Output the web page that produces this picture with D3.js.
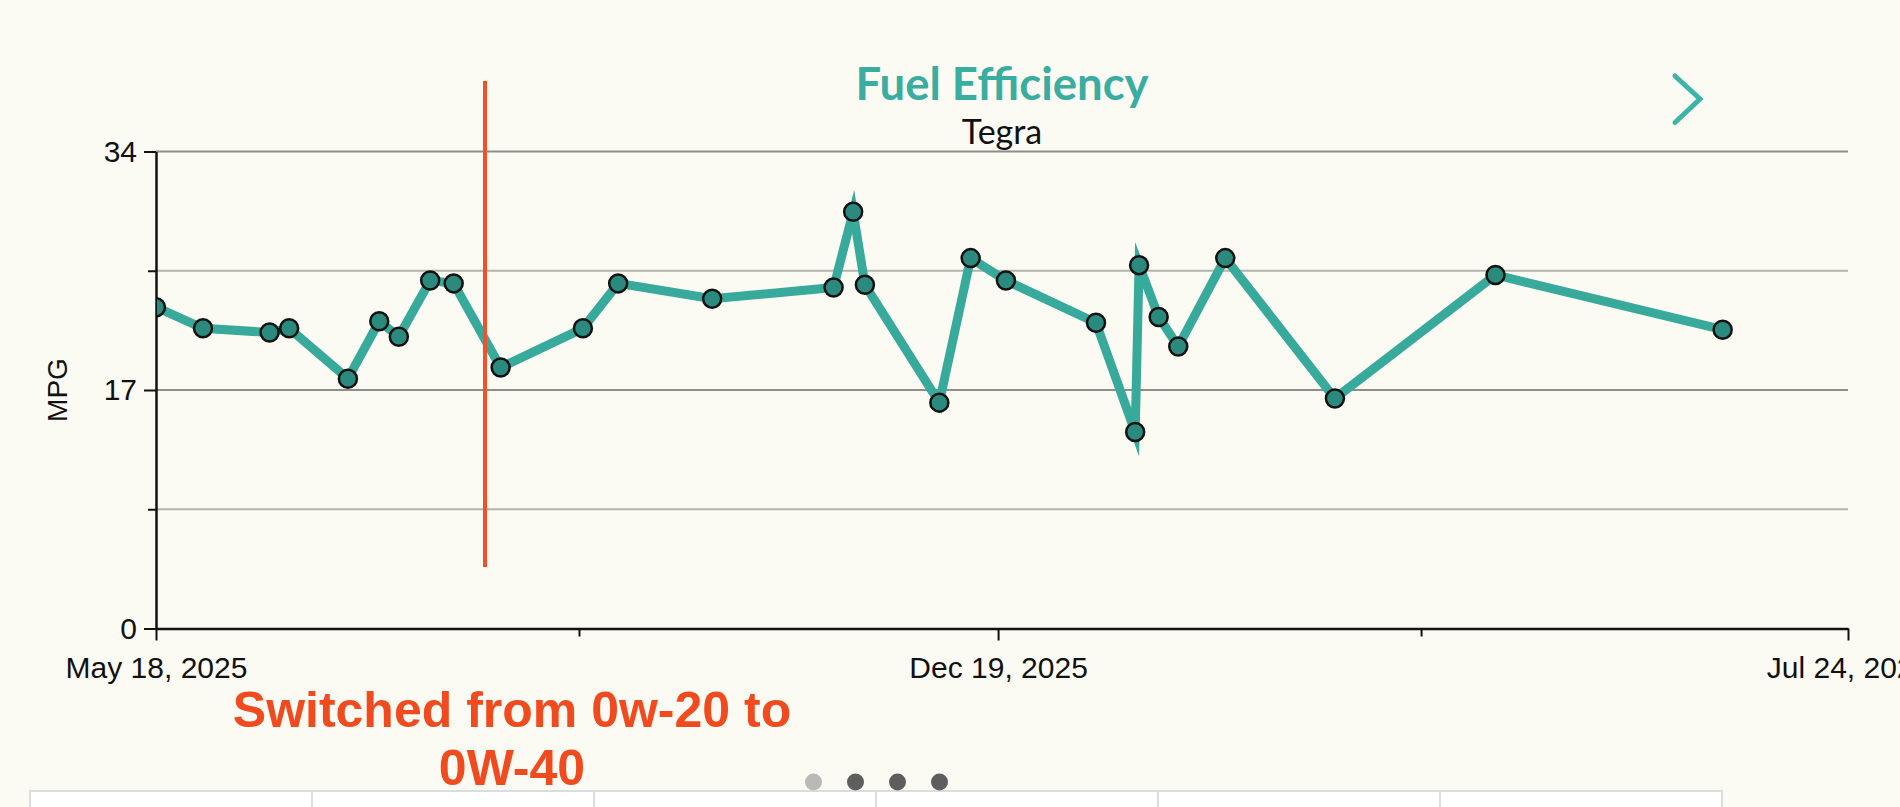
<!DOCTYPE html>
<html>
<head>
<meta charset="utf-8">
<script src="https://cdn.jsdelivr.net/npm/d3@7"></script>
<style>
  html, body { margin: 0; padding: 0; background: #fcfbf3; overflow: hidden; }
  svg { display: block; }
</style>
</head>
<body>
<svg id="chart" width="1900" height="807"></svg>
<script>
// Fill-up dates and MPG
const fillDates = [
  '2025-05-18', '2025-05-30', '2025-06-16', '2025-06-21', '2025-07-06',
  '2025-07-14', '2025-07-19', '2025-07-27', '2025-08-02', '2025-08-14',
  '2025-09-04', '2025-09-13', '2025-10-07', '2025-11-07', '2025-11-12',
  '2025-11-15', '2025-12-04', '2025-12-12', '2025-12-21', '2026-01-13',
  '2026-01-23', '2026-01-24', '2026-01-29', '2026-02-03', '2026-02-15',
  '2026-03-15', '2026-04-25', '2026-06-22'
];
const mpgValues = [
  22.9, 21.4, 21.1, 21.4, 17.8,
  21.9, 20.8, 24.8, 24.6, 18.6,
  21.4, 24.6, 23.5, 24.3, 29.7,
  24.5, 16.1, 26.4, 24.8, 21.8,
  14.0, 25.9, 22.2, 20.1, 26.4,
  16.4, 25.2, 21.3
];

// Axis ticks
const xDomain = ['2025-05-18', '2026-07-24'];
const xTickDates = ['2025-05-18', '2025-09-03', '2025-12-19', '2026-04-06', '2026-07-24'];
const xTickLabels = ['May 18, 2025', '', 'Dec 19, 2025', '', 'Jul 24, 2026'];
const yTicks = [0, 8.5, 17, 25.5, 34];
const yTickLabels = ['0', '', '17', '', '34'];

// Oil change annotation
const switchDate = '2025-08-10';
const switchText = ['Switched from 0w-20 to', '0W-40'];

const teal = '#37aa9c';
const red = '#f2502a';

const parse = d3.timeParse('%Y-%m-%d');
const data = fillDates.map((d, i) => ({ date: parse(d), mpg: mpgValues[i] }));

const svg = d3.select('#chart');
const plotLeft = 156, plotRight = 1848, plotTop = 151.5, plotBottom = 628.5;

const x = d3.scaleTime()
  .domain(xDomain.map(parse))
  .range([plotLeft, plotRight]);

const y = d3.scaleLinear()
  .domain([0, 34])
  .range([plotBottom, plotTop]);

// gridlines
svg.append('g')
  .selectAll('line')
  .data(yTicks.filter(d => d > 0))
  .enter()
  .append('line')
  .attr('x1', plotLeft)
  .attr('x2', plotRight)
  .attr('y1', d => y(d))
  .attr('y2', d => y(d))
  .attr('stroke', d => yTickLabels[yTicks.indexOf(d)] ? '#8e8d89' : '#b4b3ae')
  .attr('stroke-width', 2);

// y axis
const yAxis = svg.append('g')
  .attr('transform', `translate(${plotLeft},0)`)
  .call(d3.axisLeft(y).tickValues(yTicks).tickFormat((d, i) => yTickLabels[i]).tickSizeOuter(0));
yAxis.select('.domain').attr('stroke', '#111').attr('stroke-width', 2.5);
yAxis.selectAll('.tick line')
  .attr('stroke', '#111')
  .attr('stroke-width', 2)
  .attr('x2', (d, i) => yTickLabels[i] ? -12 : -8);
yAxis.selectAll('.tick text')
  .attr('x', -19)
  .style('font-family', '"Liberation Sans", Arial, sans-serif')
  .style('font-size', '30px')
  .attr('fill', '#111');

// x axis
const xAxis = svg.append('g')
  .attr('transform', `translate(0,${plotBottom})`)
  .call(d3.axisBottom(x).tickValues(xTickDates.map(parse)).tickFormat((d, i) => xTickLabels[i]).tickSizeOuter(0));
xAxis.select('.domain').attr('stroke', '#111').attr('stroke-width', 2.5);
xAxis.selectAll('.tick line')
  .attr('stroke', '#111')
  .attr('stroke-width', 2)
  .attr('y2', (d, i) => xTickLabels[i] ? 12 : 8);
xAxis.selectAll('.tick text')
  .attr('y', 28)
  .style('font-family', '"Liberation Sans", Arial, sans-serif')
  .style('font-size', '30px')
  .attr('fill', '#111');

// y axis title
svg.append('text')
  .attr('transform', `translate(67,${y(17)}) rotate(-90)`)
  .attr('text-anchor', 'middle')
  .style('font-family', '"Liberation Sans", Arial, sans-serif')
  .style('font-size', '28px')
  .attr('fill', '#111')
  .text('MPG');

// clip the series to the plot area
svg.append('clipPath')
  .attr('id', 'plot-clip')
  .append('rect')
  .attr('x', plotLeft + 1)
  .attr('y', 0)
  .attr('width', plotRight - plotLeft)
  .attr('height', plotBottom);

const plot = svg.append('g').attr('clip-path', 'url(#plot-clip)');

const line = d3.line()
  .x(d => x(d.date))
  .y(d => y(d.mpg));

plot.append('path')
  .datum(data)
  .attr('d', line)
  .attr('fill', 'none')
  .attr('stroke', teal)
  .attr('stroke-width', 9)
  .attr('stroke-linejoin', 'miter')
  .attr('stroke-miterlimit', 10);

plot.selectAll('circle')
  .data(data)
  .enter()
  .append('circle')
  .attr('cx', d => x(d.date))
  .attr('cy', d => y(d.mpg))
  .attr('r', 9)
  .attr('fill', '#2b8a7e')
  .attr('stroke', '#111')
  .attr('stroke-width', 2.5);

// titles
svg.append('text')
  .attr('x', (plotLeft + plotRight) / 2)
  .attr('y', 100)
  .attr('text-anchor', 'middle')
  .style('font-family', 'Lato, sans-serif')
  .style('font-weight', 'bold')
  .style('font-size', '45.5px')
  .attr('fill', '#3aada1')
  .text('Fuel Efficiency');

svg.append('text')
  .attr('x', (plotLeft + plotRight) / 2)
  .attr('y', 144)
  .attr('text-anchor', 'middle')
  .style('font-family', 'Lato, sans-serif')
  .style('font-size', '34px')
  .attr('fill', '#111')
  .text('Tegra');

// next chevron
svg.append('path')
  .attr('d', 'M1675,76 L1700,99 L1675,122.5')
  .attr('fill', 'none')
  .attr('stroke', '#3ab5a8')
  .attr('stroke-width', 5)
  .attr('stroke-linecap', 'round')
  .attr('stroke-linejoin', 'miter');

// annotation
svg.append('line')
  .attr('x1', x(parse(switchDate)))
  .attr('x2', x(parse(switchDate)))
  .attr('y1', 81)
  .attr('y2', 567)
  .attr('stroke', red)
  .attr('stroke-width', 4);

svg.append('g')
  .selectAll('text')
  .data(switchText)
  .enter()
  .append('text')
  .attr('x', 512)
  .attr('y', (d, i) => 727 + i * 58)
  .attr('text-anchor', 'middle')
  .style('font-family', '"Liberation Sans", Arial, sans-serif')
  .style('font-weight', 'bold')
  .style('font-size', '50px')
  .attr('fill', '#f04b1e')
  .text(d => d);

// bottom tab bar
const tabs = d3.range(6);
svg.append('g')
  .selectAll('rect')
  .data(tabs)
  .enter()
  .append('rect')
  .attr('x', d => 30 + d * 282)
  .attr('y', 791)
  .attr('width', 282)
  .attr('height', 30)
  .attr('fill', '#ffffff')
  .attr('stroke', '#dcdcdc')
  .attr('stroke-width', 2);

// page dots
const pageDots = [0, 1, 2, 3];
svg.append('g')
  .selectAll('circle')
  .data(pageDots)
  .enter()
  .append('circle')
  .attr('cx', d => 813.5 + d * 42)
  .attr('cy', 782)
  .attr('r', 8.5)
  .attr('fill', d => d === 0 ? '#b9b9b7' : '#5e5e5e');
</script>
</body>
</html>
